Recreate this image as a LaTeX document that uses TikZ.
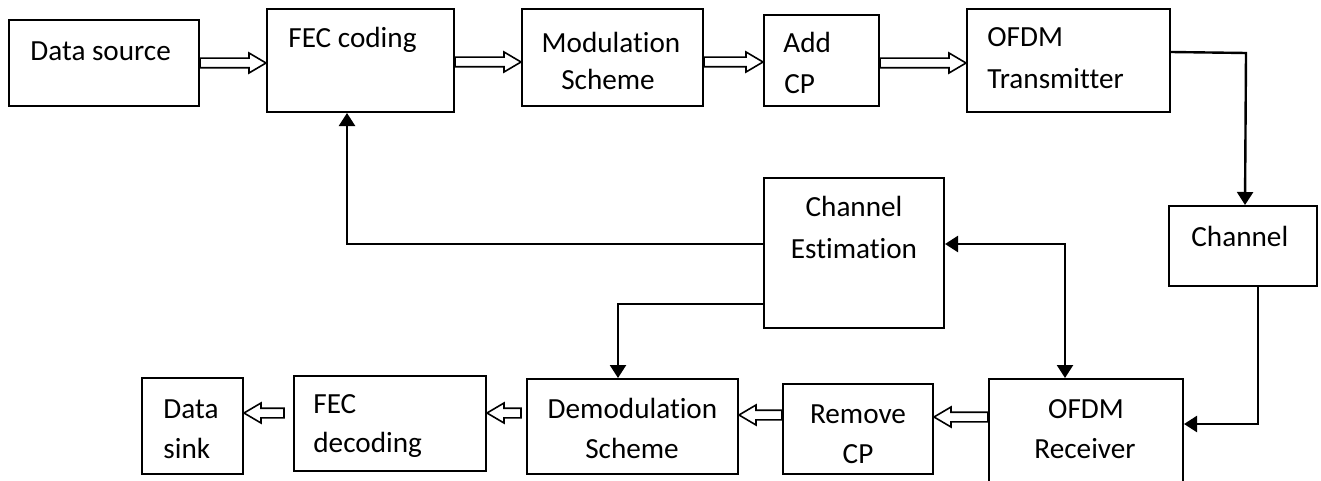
\documentclass[tikz,border=0pt]{standalone}
\usepackage{fontspec}
\setmainfont{Carlito}[Ligatures={NoCommon}]
\usetikzlibrary{calc,arrows.meta}
\tikzset{
  blk/.style={draw, line width=1pt, inner sep=0pt, fill=white},
  txt/.style={inner sep=0pt, font=\fontsize{14.6pt}{20pt}\selectfont},
  conn/.style={line width=1.2pt, -{Triangle[length=6.5pt,width=8pt]}},
  both/.style={line width=1.2pt, {Triangle[length=6.5pt,width=8pt]}-{Triangle[length=6.5pt,width=8pt]}},
  hol/.style={line width=0.8pt, fill=white, line join=miter}
}
% hollow arrow pointing right / left: #1 start point, #2 anchor giving the x of the tip
\newcommand\hollowR[2]{\draw[hol] let \p1=(#1), \p2=(#2) in
  (\x1,\y1+2.4pt) -- (\x2-8.5pt,\y1+2.4pt) -- (\x2-8.5pt,\y1+5pt) -- (\x2,\y1)
  -- (\x2-8.5pt,\y1-5pt) -- (\x2-8.5pt,\y1-2.4pt) -- (\x1,\y1-2.4pt) -- cycle;}
\newcommand\hollowL[2]{\draw[hol] let \p1=(#1), \p2=(#2) in
  (\x1,\y1+2.4pt) -- (\x2+8.5pt,\y1+2.4pt) -- (\x2+8.5pt,\y1+5pt) -- (\x2,\y1)
  -- (\x2+8.5pt,\y1-5pt) -- (\x2+8.5pt,\y1-2.4pt) -- (\x1,\y1-2.4pt) -- cycle;}
\begin{document}
\begin{tikzpicture}[x=0.5pt,y=-0.5pt]
\path[fill=white,use as bounding box] (0,0) rectangle (1321,481);
% boxes (centre, width, height in px)
\node[blk, minimum width=95pt,  minimum height=43pt]   (ds)   at (104,63) {};
\node[blk, minimum width=93.5pt,minimum height=51.5pt] (fec)  at (360.5,60.5) {};
\node[blk, minimum width=90.5pt,minimum height=48.5pt] (mod)  at (612.5,57.5) {};
\node[blk, minimum width=57.5pt,minimum height=45.5pt] (acp)  at (821.5,60.5) {};
\node[blk, minimum width=101.5pt,minimum height=51.5pt](tx)   at (1068.5,60.5) {};
\node[blk, minimum width=74pt,  minimum height=40pt]   (ch)   at (1243,246) {};
\node[blk, minimum width=90pt,  minimum height=75pt]   (ce)   at (854,253) {};
\node[blk, minimum width=97pt,  minimum height=53.5pt] (rx)   at (1086,432.5) {};
\node[blk, minimum width=105.5pt,minimum height=47.5pt](dem)  at (632.5,426.5) {};
\node[blk, minimum width=75pt,  minimum height=45pt]   (rcp)  at (858,429) {};
\node[blk, minimum width=96pt,  minimum height=47.5pt] (fecd) at (390,423.5) {};
\node[blk, minimum width=50.5pt,minimum height=48pt]   (dsk)  at (192.5,426) {};
% texts
\node[txt, anchor=base west] (t1)  at (30,61)   {Data source};
\node[txt, anchor=base west] (t2)  at (288,48)  {FEC coding};
\node[txt, anchor=base]      (t3a) at (611,53)  {Modulation};
\node[txt, anchor=base]      (t3b) at (608,90)  {Scheme};
\node[txt, anchor=base west] (t4a) at (783,53)  {Add};
\node[txt, anchor=base west] (t4b) at (784,94)  {CP};
\node[txt, anchor=base west] (t5a) at (987,47)  {OFDM};
\node[txt, anchor=base west] (t5b) at (987,89)  {Transmitter};
\node[txt, anchor=base west] (t6)  at (1191,246) {Channel};
\node[txt, anchor=base]      (t7a) at (854,216) {Channel};
\node[txt, anchor=base]      (t7b) at (854,258) {Estimation};
\node[txt, anchor=base]      (t8a) at (1086,418) {OFDM};
\node[txt, anchor=base]      (t8b) at (1085,458) {Receiver};
\node[txt, anchor=base]      (t9a) at (858,423) {Remove};
\node[txt, anchor=base]      (t9b) at (858,463) {CP};
\node[txt, anchor=base]      (t10a) at (632.5,418) {Demodulation};
\node[txt, anchor=base]      (t10b) at (632,458) {Scheme};
\node[txt, anchor=base west] (t11a) at (313,413) {FEC};
\node[txt, anchor=base west] (t11b) at (313,452) {decoding};
\node[txt, anchor=base west] (t12a) at (163,418) {Data};
\node[txt, anchor=base west] (t12b) at (163,458) {sink};
% hollow (block) arrows, top row
\hollowR{ds.east}{fec.west}
\hollowR{$(fec.east)+(0,1.5)$}{mod.west}
\hollowR{$(mod.east)+(0,4.5)$}{acp.west}
\hollowR{$(acp.east)+(0,2.5)$}{tx.west}
% hollow arrows, bottom row
\hollowL{$(rx.west)+(0,-15.5)$}{rcp.east}
\hollowL{$(rcp.west)+(0,-14)$}{dem.east}
\hollowL{$(dem.west)+(-5,-13.5)$}{fecd.east}
\hollowL{$(fecd.west)+(-9,-10.5)$}{dsk.east}
% solid connectors
\draw[conn] ($(tx.east)+(0,-8.5)$) -- ++(75,1) -- ($(ch.north)+(2,0)$);
\draw[conn] ($(ch.south)+(15,0)$) |- ($(rx.east)+(0,-8.5)$);
\draw[both] ($(ce.east)+(0,-9)$) -| ($(rx.north)+(-21,0)$);
\draw[conn] ($(ce.west)+(0,-9)$) -| ($(fec.south)+(-13.5,0)$);
\draw[conn] ($(ce.west)+(0,51)$) -| ($(dem.north)+(-14.5,0)$);
\end{tikzpicture}
\end{document}
